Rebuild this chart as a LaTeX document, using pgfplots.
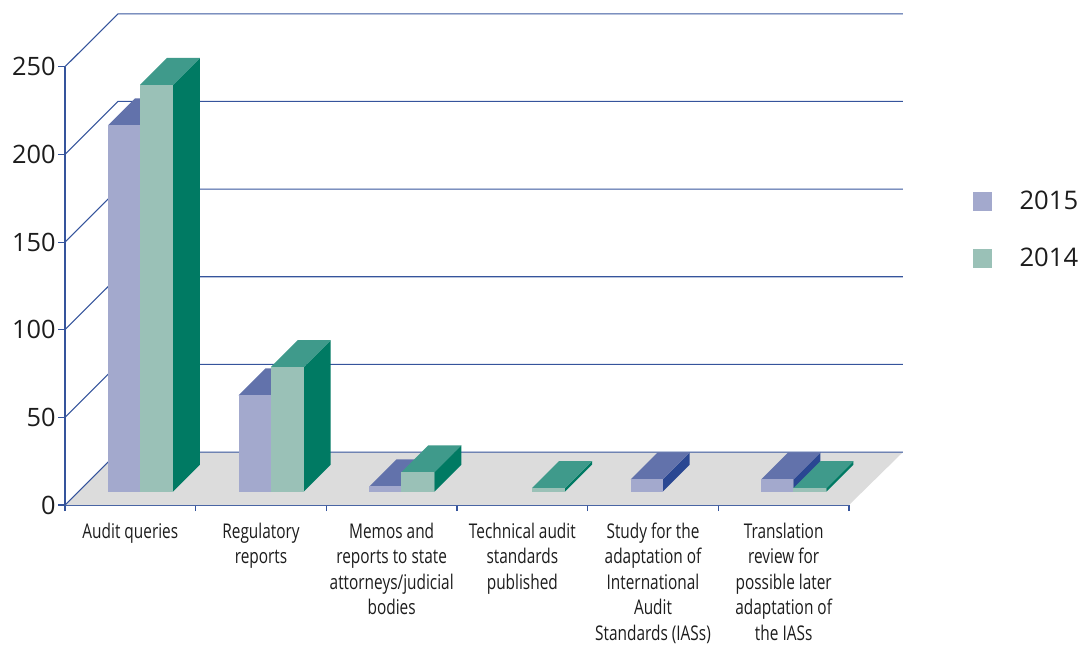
\documentclass[border=0pt]{standalone}
\usepackage{pgfplots}
\pgfplotsset{compat=1.18}
\usepackage{fontspec}
\setmainfont{Open Sans}
\newfontfamily\catfont[FakeStretch=0.76]{Open Sans}
\definecolor{axl}{HTML}{35549C}
\definecolor{flr}{HTML}{DCDCDC}
\definecolor{af}{HTML}{A3A9CD}
\definecolor{at}{HTML}{6272AB}
\definecolor{as}{HTML}{2A4792}
\definecolor{bf}{HTML}{9AC1B7}
\definecolor{bt}{HTML}{3F9A8B}
\definecolor{bs}{HTML}{007A63}
\definecolor{txt}{HTML}{1C1C1C}
% #1 category, #2 value, #3 left offset, #4 right offset, #5 front, #6 top, #7 side
\newcommand\threedbar[7]{%
  \pgfmathsetmacro\xa{#1+#3}%
  \pgfmathsetmacro\xb{#1+#4}%
  \pgfmathsetmacro\xc{#1+#4+0.2066}%
  \pgfmathsetmacro\xd{#1+#3+0.2066}%
  \pgfmathsetmacro\ya{7.6}%
  \pgfmathsetmacro\yb{7.6+#2}%
  \pgfmathsetmacro\yc{7.6+#2+15.4}%
  \pgfmathsetmacro\yd{7.6+15.4}%
  \edef\temp{%
    \noexpand\addplot[forget plot,draw=none,fill=#7,mark=none] coordinates {(\xb,\ya) (\xc,\yd) (\xc,\yc) (\xb,\yb)};
    \noexpand\addplot[forget plot,draw=none,fill=#6,mark=none] coordinates {(\xa,\yb) (\xb,\yb) (\xc,\yc) (\xd,\yc)};
    \noexpand\addplot[forget plot,draw=none,fill=#5,mark=none] coordinates {(\xa,\ya) (\xb,\ya) (\xb,\yb) (\xa,\yb)};
  }\temp}
\newcommand\yr[3]{\threedbar{#1}{#2}{0.329}{0.574}{af}{at}{as}\threedbar{#1}{#3}{0.574}{0.8265}{bf}{bt}{bs}}
\begin{document}
\begin{tikzpicture}
\path[use as bounding box] (-48.75pt,-104.25pt) rectangle (761.25pt,378.75pt);
\begin{axis}[
  at={(0,0)}, anchor=south west,
  scale only axis, width=588pt, height=328.7pt,
  xmin=0, xmax=6, ymin=0, ymax=250,
  clip=false,
  axis x line=bottom, axis y line=left,
  axis line style={-,draw=axl,line width=0.8pt},
  ytick={0,50,100,150,200,250},
  xtick={0.5,1.5,2.5,3.5,4.5,5.5},
  minor xtick={0,1,2,3,4,5,6},
  major x tick style={draw=none},
  minor x tick style={draw=axl,line width=0.8pt},
  y tick style={draw=axl,line width=0.8pt},
  tick align=outside,
  minor tick length=4.5pt,
  major tick length=5pt,
  /pgf/number format/assume math mode=true,
  yticklabel style={font=\fontsize{19}{20}\selectfont,text=txt,inner sep=2pt,xshift=0.2pt},
  xticklabels={{Audit queries},{Regulatory\\reports},{Memos and\\reports to state\\attorneys/judicial\\bodies},{Technical audit\\standards\\published},{Study for the\\adaptation of\\International\\Audit\\Standards (IASs)},{Translation\\review for\\possible later\\adaptation of\\the IASs}},
  xticklabel style={font=\catfont\fontsize{15.2}{19.1}\selectfont,text=txt,align=center,anchor=north,yshift=-4.8pt},
  legend style={at={(rel axis cs:1.1577,0.7224)},anchor=north west,draw=none,fill=none,
    font=\fontsize{19.2}{20}\selectfont,text=txt,
    row sep=23.4pt,inner sep=0pt},
  legend image code/.code={\path[#1] (0pt,-7.1pt) rectangle (14.25pt,7.1pt);\path (33pt,0pt);},
]
% floor
\addplot[forget plot,draw=none,fill=flr,mark=none] coordinates {(0,0) (6,0) (6.413,30.2) (0.4056,30.2)};
% walls: diagonal and back grid lines
\addplot[forget plot,draw=axl,line width=0.8pt,mark=none] coordinates {(0,0) (0.4056,30.2) (6.413,30.2)};
\addplot[forget plot,draw=axl,line width=0.8pt,mark=none] coordinates {(0,50) (0.4056,80.2) (6.413,80.2)};
\addplot[forget plot,draw=axl,line width=0.8pt,mark=none] coordinates {(0,100) (0.4056,130.2) (6.413,130.2)};
\addplot[forget plot,draw=axl,line width=0.8pt,mark=none] coordinates {(0,150) (0.4056,180.2) (6.413,180.2)};
\addplot[forget plot,draw=axl,line width=0.8pt,mark=none] coordinates {(0,200) (0.4056,230.2) (6.413,230.2)};
\addplot[forget plot,draw=axl,line width=0.8pt,mark=none] coordinates {(0,250) (0.4056,280.2) (6.413,280.2)};
% bars: category, 2015, 2014
\yr{0}{209}{232}
\yr{1}{55}{71}
\yr{2}{3}{11}
\threedbar{3}{2}{0.574}{0.8265}{bf}{bt}{bs}
\threedbar{4}{7}{0.329}{0.574}{af}{at}{as}
\yr{5}{7}{2}
\addlegendimage{draw=none,fill=af}\addlegendentry{2015}
\addlegendimage{draw=none,fill=bf}\addlegendentry{2014}
\end{axis}
\end{tikzpicture}
\end{document}
